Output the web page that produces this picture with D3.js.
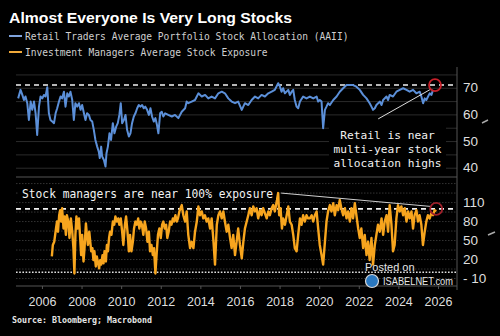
<!DOCTYPE html>
<html>
<head>
<meta charset="utf-8">
<script src="https://cdn.jsdelivr.net/npm/d3@7"></script>
<style>
  body { margin: 0; background: #000; }
  svg { display: block; }
</style>
</head>
<body>
<div id="chart"></div>
<script>
// Retail allocation (AAII), [decimal year, %]
var retail = [
  [2004.80,66.2],[2004.92,69.4],[2005.01,67.5],[2005.09,65.6],[2005.17,66.9],[2005.26,64.4],[2005.34,58.1],
  [2005.43,65.0],[2005.51,61.9],[2005.60,65.0],[2005.68,60.6],[2005.76,52.5],[2005.85,63.1],[2005.93,66.9],
  [2006.02,66.2],[2006.10,67.5],[2006.18,66.9],[2006.27,70.4],[2006.35,60.6],[2006.43,58.1],[2006.52,57.5],
  [2006.61,56.9],[2006.69,60.6],[2006.77,62.5],[2006.86,65.0],[2006.94,66.9],[2007.02,66.2],[2007.11,68.7],
  [2007.19,63.1],[2007.28,68.1],[2007.36,66.9],[2007.44,68.7],[2007.53,65.6],[2007.61,58.1],[2007.69,64.4],
  [2007.78,63.1],[2007.87,64.4],[2007.95,61.9],[2008.03,63.7],[2008.12,60.6],[2008.20,58.1],[2008.28,60.6],
  [2008.37,60.0],[2008.45,58.1],[2008.54,57.5],[2008.62,54.4],[2008.70,50.6],[2008.79,48.1],[2008.87,46.2],
  [2008.92,43.8],[2008.99,48.1],[2009.04,44.4],[2009.13,43.1],[2009.21,40.6],[2009.26,45.6],[2009.33,48.1],
  [2009.41,53.1],[2009.49,50.6],[2009.58,56.9],[2009.66,53.1],[2009.75,55.6],[2009.83,56.9],[2009.91,60.0],
  [2009.98,64.4],[2010.05,56.9],[2010.14,58.1],[2010.22,60.0],[2010.30,54.4],[2010.39,51.9],[2010.47,53.1],
  [2010.55,56.9],[2010.64,59.4],[2010.72,60.6],[2010.81,62.5],[2010.89,63.7],[2010.97,63.1],[2011.06,63.7],
  [2011.14,62.5],[2011.22,63.1],[2011.31,61.9],[2011.40,60.0],[2011.48,62.5],[2011.56,59.4],[2011.65,57.5],
  [2011.73,58.8],[2011.81,56.2],[2011.88,53.1],[2011.97,60.6],[2012.05,61.2],[2012.13,59.4],[2012.22,60.6],
  [2012.38,60.0],[2012.56,59.4],[2012.72,60.0],[2012.89,58.8],[2013.06,61.2],[2013.23,62.5],[2013.31,65.0],
  [2013.39,64.4],[2013.56,65.0],[2013.73,65.6],[2013.82,66.9],[2013.90,68.1],[2014.07,66.9],[2014.24,67.5],
  [2014.40,66.2],[2014.57,66.9],[2014.74,66.2],[2014.91,68.1],[2015.08,68.7],[2015.24,68.1],[2015.41,66.2],
  [2015.58,65.0],[2015.75,64.4],[2015.91,65.0],[2016.09,61.9],[2016.25,64.4],[2016.42,63.7],[2016.59,65.6],
  [2016.76,66.9],[2016.92,66.2],[2017.09,67.5],[2017.26,66.9],[2017.43,68.1],[2017.60,68.7],[2017.76,69.4],
  [2017.93,71.9],[2018.02,70.6],[2018.10,68.7],[2018.18,70.0],[2018.27,68.1],[2018.44,69.4],[2018.52,67.5],
  [2018.61,68.7],[2018.69,69.4],[2018.77,65.6],[2018.86,63.1],[2018.94,62.5],[2019.03,65.0],[2019.19,66.9],
  [2019.36,66.2],[2019.53,66.9],[2019.70,66.2],[2019.87,66.9],[2019.95,65.0],[2020.03,65.6],[2020.12,65.0],
  [2020.20,55.0],[2020.29,61.9],[2020.37,63.1],[2020.45,64.4],[2020.54,63.7],[2020.71,65.6],[2020.88,66.9],
  [2021.04,68.7],[2021.21,70.0],[2021.38,71.2],[2021.55,71.2],[2021.71,71.2],[2021.88,70.6],[2022.05,69.4],
  [2022.22,67.5],[2022.39,66.2],[2022.55,64.4],[2022.64,63.1],[2022.72,61.9],[2022.81,62.5],[2022.89,63.7],
  [2023.06,65.0],[2023.15,63.7],[2023.23,65.6],[2023.40,66.9],[2023.48,65.6],[2023.56,67.5],[2023.73,66.9],
  [2023.90,68.7],[2024.07,69.4],[2024.24,70.0],[2024.41,69.4],[2024.57,68.7],[2024.74,69.4],[2024.91,68.1],
  [2025.08,68.7],[2025.16,66.9],[2025.25,64.4],[2025.33,66.2],[2025.41,65.6],[2025.50,66.9],[2025.58,68.1],
  [2025.67,67.5],[2025.75,69.4]
];

// Investment managers exposure (NAAIM), [decimal year, %]
var managers = [
  [2006.50,25],[2006.55,43],[2006.62,48],[2006.71,69],[2006.76,80],[2006.81,64],[2006.87,90],[2006.92,98],
  [2006.97,80],[2007.02,101],[2007.09,69],[2007.14,88],[2007.21,59],[2007.26,90],[2007.33,80],[2007.39,54],
  [2007.46,85],[2007.53,64],[2007.59,38],[2007.64,-2],[2007.69,59],[2007.74,88],[2007.80,69],[2007.87,85],
  [2007.93,54],[2007.98,27],[2008.03,59],[2008.10,17],[2008.15,38],[2008.22,77],[2008.27,59],[2008.32,43],
  [2008.39,64],[2008.44,48],[2008.49,33],[2008.55,38],[2008.60,19],[2008.65,33],[2008.72,9],[2008.77,25],
  [2008.82,17],[2008.89,6],[2008.94,19],[2008.99,12],[2009.06,27],[2009.11,14],[2009.16,33],[2009.23,17],
  [2009.28,43],[2009.33,33],[2009.39,54],[2009.44,64],[2009.51,59],[2009.58,80],[2009.65,75],[2009.71,88],
  [2009.78,80],[2009.85,85],[2009.91,75],[2009.98,85],[2010.05,64],[2010.11,43],[2010.19,75],[2010.25,88],
  [2010.32,64],[2010.39,33],[2010.45,59],[2010.52,33],[2010.59,48],[2010.65,69],[2010.72,80],[2010.79,75],
  [2010.86,85],[2010.92,69],[2010.99,80],[2011.05,75],[2011.12,59],[2011.19,80],[2011.26,69],[2011.33,48],
  [2011.40,64],[2011.46,33],[2011.53,43],[2011.60,27],[2011.66,38],[2011.73,-2],[2011.80,33],[2011.86,59],
  [2011.93,69],[2012.00,54],[2012.07,75],[2012.13,80],[2012.20,69],[2012.27,75],[2012.33,54],[2012.40,64],
  [2012.47,80],[2012.54,75],[2012.61,85],[2012.67,80],[2012.74,90],[2012.81,80],[2012.87,85],[2012.94,96],
  [2013.06,106],[2013.14,90],[2013.23,80],[2013.31,96],[2013.39,59],[2013.48,38],[2013.56,48],[2013.65,38],
  [2013.73,64],[2013.82,80],[2013.90,104],[2013.98,90],[2014.07,96],[2014.15,85],[2014.23,90],[2014.32,80],
  [2014.40,85],[2014.49,69],[2014.57,85],[2014.65,54],[2014.74,12],[2014.83,75],[2014.91,90],[2014.99,96],
  [2015.08,85],[2015.16,96],[2015.24,80],[2015.33,64],[2015.41,75],[2015.50,54],[2015.58,38],[2015.66,59],
  [2015.75,27],[2015.83,48],[2015.91,69],[2016.00,43],[2016.09,22],[2016.17,48],[2016.25,69],[2016.34,80],
  [2016.42,90],[2016.50,101],[2016.59,90],[2016.67,104],[2016.76,96],[2016.84,101],[2016.92,85],[2017.01,98],
  [2017.09,90],[2017.17,101],[2017.26,93],[2017.35,85],[2017.43,96],[2017.51,90],[2017.60,101],[2017.68,106],
  [2017.76,96],[2017.85,111],[2017.93,125],[2017.98,90],[2018.05,101],[2018.12,69],[2018.18,85],[2018.27,75],
  [2018.36,90],[2018.44,104],[2018.52,80],[2018.61,75],[2018.69,59],[2018.77,38],[2018.86,33],[2018.94,59],
  [2019.03,85],[2019.11,75],[2019.19,90],[2019.28,80],[2019.36,90],[2019.44,85],[2019.53,85],[2019.62,90],
  [2019.70,80],[2019.78,90],[2019.87,96],[2019.95,69],[2020.03,43],[2020.12,27],[2020.20,12],[2020.29,48],
  [2020.37,80],[2020.45,96],[2020.54,106],[2020.62,96],[2020.71,109],[2020.79,90],[2020.88,106],[2020.96,98],
  [2021.04,114],[2021.12,101],[2021.21,90],[2021.30,101],[2021.38,85],[2021.46,96],[2021.55,80],[2021.63,101],
  [2021.71,85],[2021.80,109],[2021.88,90],[2021.97,69],[2022.05,54],[2022.13,69],[2022.22,38],[2022.30,59],
  [2022.39,27],[2022.47,48],[2022.55,19],[2022.64,54],[2022.72,12],[2022.81,43],[2022.89,59],[2022.97,75],
  [2023.06,64],[2023.15,85],[2023.23,59],[2023.31,80],[2023.40,90],[2023.48,64],[2023.56,106],[2023.65,75],
  [2023.73,33],[2023.81,43],[2023.90,85],[2023.98,106],[2024.07,96],[2024.15,104],[2024.24,90],[2024.32,101],
  [2024.41,80],[2024.49,96],[2024.57,85],[2024.66,96],[2024.74,69],[2024.82,90],[2024.91,98],[2024.99,80],
  [2025.07,90],[2025.16,75],[2025.24,43],[2025.33,64],[2025.41,80],[2025.49,90],[2025.58,85],[2025.66,93],
  [2025.75,90],[2025.83,98],[2025.91,96]
];

var yearTicks = [2006, 2008, 2010, 2012, 2014, 2016, 2018, 2020, 2022, 2024, 2026];
var retailTicks = [40, 50, 60, 70];
var managerTicks = [-10, 20, 50, 80, 110];
var retailHigh = 71.2;      // dashed reference, top panel
var managerFull = 100;      // dashed reference, bottom panel
var managerZero = 0;        // dotted reference, bottom panel
var managerTrend = [[2017.93, 125], [2025.60, 104]];   // drawn trend line
var retailPointer = [2022.98, 58.5];                    // arrow start near text

var W = 500, H = 336;
var svg = d3.select("#chart").append("svg")
    .attr("width", W)
    .attr("height", H)
    .style("background", "#000");

var plotL = 16, plotR = 457;
var x = d3.scaleLinear().domain([2004.69, 2026.96]).range([plotL, plotR]);
var yTop = d3.scaleLinear().domain([36.7, 76.1]).range([177, 72]);
var yBot = d3.scaleLinear().domain([-21.8, 148.8]).range([286, 178]);

// title + legend
svg.append("text")
    .attr("x", 9).attr("y", 22.5)
    .attr("textLength", 283).attr("lengthAdjust", "spacingAndGlyphs")
    .style("font-family", "Liberation Sans, Arial, sans-serif")
    .style("font-weight", "bold").style("font-size", "15.5px")
    .attr("fill", "#fff")
    .text("Almost Everyone Is Very Long Stocks");

var legend = [
    { label: "Retail Traders Average Portfolio Stock Allocation (AAII)", color: "#7fa3dc", y: 36 },
    { label: "Investment Managers Average Stock Exposure", color: "#f0a93a", y: 52 }
];
legend.forEach(function (d) {
    svg.append("line")
        .attr("x1", 9).attr("x2", 22).attr("y1", d.y).attr("y2", d.y)
        .attr("stroke", d.color).attr("stroke-width", 2);
    svg.append("text")
        .attr("x", 25).attr("y", d.y + 3.5)
        .style("font-family", "DejaVu Sans Mono, monospace")
        .style("font-size", "9.6px")
        .attr("fill", "#cfcfcf")
        .text(d.label);
});

// gridlines
var gTop = svg.append("g");
gTop.selectAll("line")
    .data(d3.range(40, 76, 5))
    .enter().append("line")
    .attr("x1", plotL).attr("x2", plotR)
    .attr("y1", function (d) { return yTop(d); })
    .attr("y2", function (d) { return yTop(d); })
    .attr("stroke", "#2b2b2b").attr("stroke-width", 1);

var gBot = svg.append("g");
gBot.selectAll("line")
    .data(d3.range(-10, 141, 15))
    .enter().append("line")
    .attr("x1", plotL).attr("x2", plotR)
    .attr("y1", function (d) { return yBot(d); })
    .attr("y2", function (d) { return yBot(d); })
    .attr("stroke", "#333").attr("stroke-width", 1)
    .attr("stroke-dasharray", "1.5,1.5");

// frame lines
svg.append("line")
    .attr("x1", plotL).attr("x2", plotR).attr("y1", 177).attr("y2", 177)
    .attr("stroke", "#555").attr("stroke-width", 1);
svg.append("line")
    .attr("x1", plotL).attr("x2", plotR).attr("y1", 286).attr("y2", 286)
    .attr("stroke", "#555").attr("stroke-width", 1);
svg.append("line")
    .attr("x1", plotR).attr("x2", plotR).attr("y1", 67).attr("y2", 290)
    .attr("stroke", "#555").attr("stroke-width", 1);

// x axis
var xAxis = svg.append("g")
    .attr("transform", "translate(0,286)")
    .call(d3.axisBottom(x).tickValues(yearTicks).tickFormat(d3.format("d")).tickSize(3).tickSizeOuter(0));
xAxis.select(".domain").remove();
xAxis.selectAll("line").attr("stroke", "#555");
xAxis.selectAll("text")
    .attr("y", 11).attr("dy", "0.71em")
    .attr("fill", "#dedede")
    .style("font-family", "Liberation Sans, Arial, sans-serif")
    .style("font-size", "12.5px");

// y labels (right)
function rightLabels(scale, ticks) {
    svg.append("g").selectAll("text")
        .data(ticks)
        .enter().append("text")
        .attr("x", 463)
        .attr("y", function (d) { return scale(d); })
        .attr("dy", "0.3em")
        .attr("fill", "#dedede")
        .style("font-family", "Liberation Sans, Arial, sans-serif")
        .style("font-size", "13.5px")
        .text(function (d) { return d < 0 ? "- " + Math.abs(d) : d; });
}
rightLabels(yTop, retailTicks);
rightLabels(yBot, managerTicks);

// tiny series markers by the axes
svg.append("line").attr("x1", 482).attr("y1", 123).attr("x2", 488).attr("y2", 120)
    .attr("stroke", "#aaa").attr("stroke-width", 1.5);
svg.append("line").attr("x1", 488).attr("y1", 235).attr("x2", 495).attr("y2", 232)
    .attr("stroke", "#aaa").attr("stroke-width", 1.5);

// reference lines
svg.append("line")
    .attr("x1", plotL).attr("x2", plotR)
    .attr("y1", yTop(retailHigh)).attr("y2", yTop(retailHigh))
    .attr("stroke", "#f2f2f2").attr("stroke-width", 1.6)
    .attr("stroke-dasharray", "5,4");
svg.append("line")
    .attr("x1", plotL).attr("x2", plotR)
    .attr("y1", yBot(managerFull)).attr("y2", yBot(managerFull))
    .attr("stroke", "#f2f2f2").attr("stroke-width", 1.6)
    .attr("stroke-dasharray", "5,4");
svg.append("line")
    .attr("x1", plotL).attr("x2", plotR)
    .attr("y1", yBot(managerZero)).attr("y2", yBot(managerZero))
    .attr("stroke", "#e0e0e0").attr("stroke-width", 1.4)
    .attr("stroke-dasharray", "1.6,1.6");

// series
svg.append("path")
    .datum(retail)
    .attr("fill", "none")
    .attr("stroke", "#5b8fd8")
    .attr("stroke-width", 2)
    .attr("stroke-linejoin", "round")
    .attr("d", d3.line()
        .x(function (d) { return x(d[0]); })
        .y(function (d) { return yTop(d[1]); }));

svg.append("path")
    .datum(managers)
    .attr("fill", "none")
    .attr("stroke", "#f7a51e")
    .attr("stroke-width", 2.4)
    .attr("stroke-linejoin", "round")
    .attr("d", d3.line()
        .x(function (d) { return x(d[0]); })
        .y(function (d) { return yBot(d[1]); }));

// annotations
var lastRetail = retail[retail.length - 1];
var lastMgr = managers[managers.length - 1];

svg.append("rect")
    .attr("x", 329).attr("y", 126).attr("width", 117).attr("height", 46)
    .attr("fill", "#000");
svg.append("line")
    .attr("x1", x(retailPointer[0])).attr("y1", yTop(retailPointer[1]))
    .attr("x2", x(lastRetail[0]) - 2).attr("y2", yTop(retailHigh) + 4)
    .attr("stroke", "#dcdcdc").attr("stroke-width", 1);
var retailNote = ["Retail is near", "multi-year stock", "allocation highs"];
svg.append("g").selectAll("text")
    .data(retailNote)
    .enter().append("text")
    .attr("x", 387.5)
    .attr("y", function (d, i) { return 139 + i * 14; })
    .attr("text-anchor", "middle")
    .style("font-family", "DejaVu Sans Mono, monospace")
    .style("font-size", "11.2px")
    .attr("fill", "#f2f2f2")
    .text(function (d) { return d; });

svg.append("circle")
    .attr("cx", x(2025.85)).attr("cy", yTop(retailHigh))
    .attr("r", 6)
    .attr("fill", "none").attr("stroke", "#c8202a").attr("stroke-width", 1.8);

svg.append("rect")
    .attr("x", 18).attr("y", 185).attr("width", 258).attr("height", 15)
    .attr("fill", "#000");
svg.append("text")
    .attr("x", 22).attr("y", 197.5)
    .attr("textLength", 251).attr("lengthAdjust", "spacingAndGlyphs")
    .style("font-family", "DejaVu Sans Mono, monospace")
    .style("font-size", "13px")
    .attr("fill", "#f2f2f2")
    .text("Stock managers are near 100% exposure");
svg.append("line")
    .attr("x1", x(managerTrend[0][0]) + 3).attr("y1", yBot(managerTrend[0][1]))
    .attr("x2", x(managerTrend[1][0])).attr("y2", yBot(managerTrend[1][1]))
    .attr("stroke", "#cfcfcf").attr("stroke-width", 1);
svg.append("circle")
    .attr("cx", x(lastMgr[0])).attr("cy", yBot(managerFull))
    .attr("r", 6)
    .attr("fill", "none").attr("stroke", "#a0202a").attr("stroke-width", 1.8);

// watermark
svg.append("text")
    .attr("x", 365).attr("y", 271)
    .style("font-family", "Liberation Sans, Arial, sans-serif")
    .style("font-size", "11px")
    .attr("fill", "#e6e6e6")
    .text("Posted on");
svg.append("circle")
    .attr("cx", 372).attr("cy", 281).attr("r", 6.5)
    .attr("fill", "#2a78c0").attr("stroke", "#d8d8d8").attr("stroke-width", 1.2);
svg.append("text")
    .attr("x", 383).attr("y", 285)
    .attr("textLength", 70).attr("lengthAdjust", "spacingAndGlyphs")
    .style("font-family", "Liberation Sans, Arial, sans-serif")
    .style("font-size", "10.5px")
    .attr("fill", "#e6e6e6")
    .text("ISABELNET.com");

// source
svg.append("text")
    .attr("x", 12).attr("y", 322.5)
    .attr("textLength", 140).attr("lengthAdjust", "spacingAndGlyphs")
    .style("font-family", "DejaVu Sans Mono, monospace")
    .style("font-weight", "bold")
    .style("font-size", "9px")
    .attr("fill", "#e6e6e6")
    .text("Source: Bloomberg; Macrobond");
</script>
</body>
</html>
